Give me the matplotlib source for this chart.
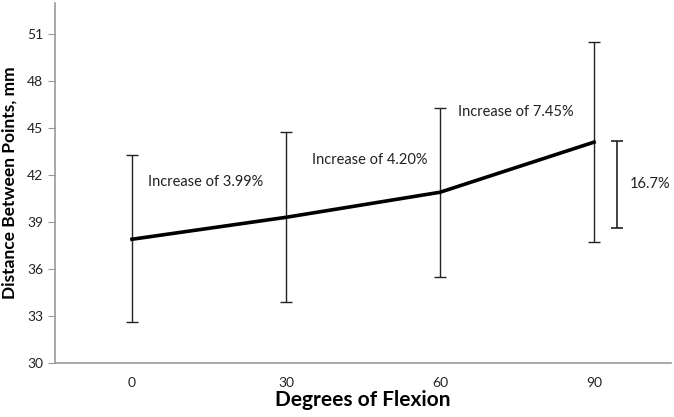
import matplotlib
matplotlib.use("Agg")
import matplotlib.pyplot as plt

# data
angles = ["0", "30", "60", "90"]
means = [37.9, 39.3, 40.9, 44.1]
upper = [43.25, 44.75, 46.3, 50.5]
lower = [32.6, 33.9, 35.5, 37.7]
yticks = [30, 33, 36, 39, 42, 45, 48, 51]

notes = ["Increase of 3.99%", "Increase of 4.20%", "Increase of 7.45%"]
note_x = [0.48, 1.545, 2.49]
note_y = [41.55, 42.95, 46.0]

span_top = 44.2
span_bottom = 38.6
span_label = "16.7%"


def main():
    plt.rcParams['font.family'] = ['Lato', 'DejaVu Sans']
    fig = plt.figure(figsize=(6.74, 4.17), dpi=100)
    ax = fig.add_axes([0.0816, 0.1295, 0.914, 0.864])

    x = list(range(len(angles)))
    err_lo = [m - l for m, l in zip(means, lower)]
    err_hi = [u - m for m, u in zip(means, upper)]
    ax.errorbar(x, means, yerr=[err_lo, err_hi], fmt='none', ecolor='#222222',
                elinewidth=1.0, capsize=4, capthick=1.0, zorder=2)
    ax.plot(x, means, color='black', linewidth=2.6, zorder=3)

    # bracket for overall change
    bx = 3.15
    mid = (span_top + span_bottom) / 2
    ax.errorbar([bx], [mid], yerr=[[mid - span_bottom], [span_top - mid]], fmt='none',
                ecolor='#222222', elinewidth=1.2, capsize=4, capthick=1.2)
    ax.text(bx + 0.08, mid, span_label, fontsize=10.5, va='center', ha='left', color='#222222')

    for t, tx, ty in zip(notes, note_x, note_y):
        ax.text(tx, ty, t, fontsize=10.5, ha='center', va='center', color='#222222')

    ax.set_xlim(-0.5, 3.5)
    ax.set_ylim(30, 53)
    ax.set_xticks(x)
    ax.set_xticklabels(angles)
    ax.set_yticks(yticks)
    ax.tick_params(axis='x', length=0, pad=10, labelsize=10, labelcolor='#222222')
    ax.tick_params(axis='y', length=5, color='#999999', labelsize=10, labelcolor='#222222')

    for s in ['top', 'right']:
        ax.spines[s].set_visible(False)
    for s in ['left', 'bottom']:
        ax.spines[s].set_color('#999999')
        ax.spines[s].set_linewidth(1.2)

    ax.set_xlabel("Degrees of Flexion", fontsize=15, fontweight='bold', labelpad=1)
    ax.set_ylabel("Distance Between Points, mm", fontsize=12.5, fontweight='bold', labelpad=7)

    fig.savefig("out.png", dpi=100)


if __name__ == "__main__":
    main()
